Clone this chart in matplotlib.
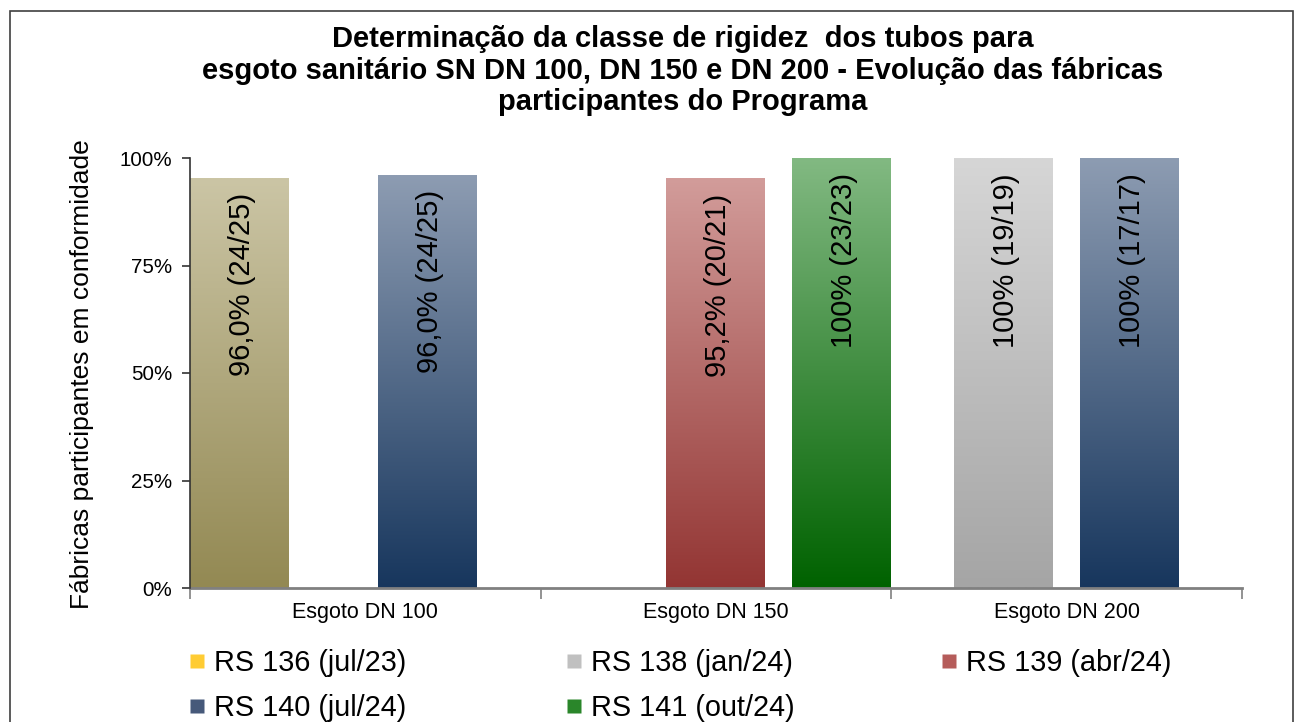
import numpy as np
import matplotlib
matplotlib.use("Agg")
import matplotlib.pyplot as plt
from matplotlib.colors import LinearSegmentedColormap
from matplotlib.lines import Line2D
from matplotlib.patches import Rectangle

plt.rcParams['font.family'] = ['Liberation Sans', 'DejaVu Sans']

# ---------------- data ----------------
categories = ['Esgoto DN 100', 'Esgoto DN 150', 'Esgoto DN 200']
series_names = ['RS 136 (jul/23)', 'RS 138 (jan/24)', 'RS 139 (abr/24)',
                'RS 140 (jul/24)', 'RS 141 (out/24)']
nan = np.nan
rs136 = [95.3, nan, nan]
rs138 = [nan, nan, 100.0]
rs139 = [nan, 95.2, nan]
rs140 = [96.0, nan, 100.0]
rs141 = [nan, 100.0, nan]
series_values = [rs136, rs138, rs139, rs140, rs141]

rs136_labels = ['96,0% (24/25)', '', '']
rs138_labels = ['', '', '100% (19/19)']
rs139_labels = ['', '95,2% (20/21)', '']
rs140_labels = ['96,0% (24/25)', '', '100% (17/17)']
rs141_labels = ['', '100% (23/23)', '']
series_labels = [rs136_labels, rs138_labels, rs139_labels, rs140_labels, rs141_labels]

title = ('Determinação da classe de rigidez  dos tubos para\n'
         'esgoto sanitário SN DN 100, DN 150 e DN 200 - Evolução das fábricas\n'
         'participantes do Programa')
ylabel = 'Fábricas participantes em conformidade'
ytick_vals = [0, 0.25, 0.5, 0.75, 1.0]
ytick_labels = ['0%', '25%', '50%', '75%', '100%']

# ---------------- styles ----------------
# (top colour, bottom colour) of each bar gradient
grad = [('#cbc5a5', '#938953'),
        ('#d6d6d6', '#a5a5a5'),
        ('#d29c9a', '#933533'),
        ('#8d9cb2', '#17365d'),
        ('#82b982', '#006200')]
legend_colors = ['#ffcc33', '#c0c0c0', '#b55c5a', '#46597a', '#2a862a']

W, H = 1300, 722
fig = plt.figure(figsize=(W / 100, H / 100), dpi=100)
ax = fig.add_axes([190 / W, 1 - 588 / H, (1242 - 190) / W, (588 - 158) / H])

x = np.arange(len(categories))
width = 0.28
step = 0.179
grad_arr = np.linspace(0, 1, 256).reshape(-1, 1)
for i, (name, vals, labs) in enumerate(zip(series_names, series_values, series_labels)):
    off = -0.36 + step * i
    fr = np.array(vals, dtype=float) / 100.0
    bars = ax.bar(x + off, fr, width, color='none', edgecolor='none', label=name, zorder=2)
    top, bot = grad[i]
    cmap = LinearSegmentedColormap.from_list('g%d' % i, [bot, top])
    for b, v, lab in zip(bars, fr, labs):
        if np.isnan(v):
            continue
        x0, w, h = b.get_x(), b.get_width(), b.get_height()
        ax.imshow(grad_arr, cmap=cmap, extent=[x0, x0 + w, 0, h], origin='lower',
                  aspect='auto', zorder=2, interpolation='bilinear')
        ax.annotate(lab, xy=(x0 + w / 2, h), xytext=(3, -15), textcoords='offset pixels',
                    rotation=90, ha='center', va='top', fontsize=21, color='black', zorder=3)

ax.set_xlim(-0.5, 2.5)
ax.set_ylim(0, 1)
ax.set_yticks(ytick_vals)
ax.set_yticklabels(ytick_labels)
ax.set_xticks(x)
ax.set_xticklabels(categories)
ax.set_xticks([-0.5, 0.5, 1.5, 2.5], minor=True)
ax.tick_params(axis='y', length=6, width=1.2, color='#333333', pad=7, labelsize=14.8)
ax.tick_params(axis='x', which='major', length=0, pad=10, labelsize=15.5)
ax.tick_params(axis='x', which='minor', length=8, width=1.2, color='#808080', direction='out')
for s in ['top', 'right']:
    ax.spines[s].set_visible(False)
ax.spines['left'].set_color('#333333')
ax.spines['left'].set_linewidth(1.2)
ax.spines['bottom'].set_color('#808080')
ax.spines['bottom'].set_linewidth(2)
ax.spines['left'].set_zorder(4)

fig.text(682.5 / W, 1 - 25 / H, title, ha='center', va='top', fontsize=21,
         fontweight='bold', linespacing=1.16)
fig.text(82 / W, 1 - 374 / H, ylabel, rotation=90, ha='center', va='center', fontsize=19)

handles = [Line2D([], [], marker='s', linestyle='none', markersize=10.5,
                  markerfacecolor=c, markeredgecolor='none') for c in legend_colors]
# legend laid out row by row in three equal-width columns
columns = [[0, 3], [1, 4], [2]]
col_x = [188, 565, 940]
for cols, cx in zip(columns, col_x):
    fig.legend([handles[k] for k in cols], [series_names[k] for k in cols],
               loc='upper left', bbox_to_anchor=(cx / W, 1 - 649 / H), ncol=1, frameon=False,
               fontsize=20.8, handlelength=0.6, handletextpad=0.3,
               labelspacing=0.6, borderaxespad=0, borderpad=0)

fig.add_artist(Rectangle((10 / W, -0.1), (1293 - 10) / W, 1.1 - 11.5 / H,
                         transform=fig.transFigure, fill=False, ec='#404040', lw=1.2))

fig.savefig('out.png', dpi=100)
